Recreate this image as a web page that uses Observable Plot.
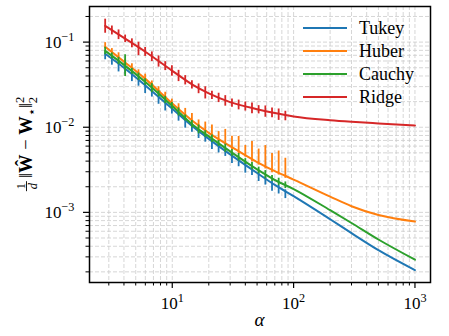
<!DOCTYPE html>
<html><head><meta charset="utf-8">
<script src="https://cdn.jsdelivr.net/npm/d3@7"></script>
<script src="https://cdn.jsdelivr.net/npm/@observablehq/plot@0.6"></script>
<style>body{margin:0;background:#fff;}</style>
</head><body><div id="chart"></div>
<script>
const seriesNames = ["Tukey", "Huber", "Cauchy", "Ridge"];
const colors = ["#1f77b4", "#ff7f0e", "#2ca02c", "#d62728"];

// theory curves
const alphaCurve  = [2.8, 4, 6, 10, 15, 20, 30, 50, 70, 100, 200, 300, 500, 1000];
const tukeyCurve  = [0.073, 0.050, 0.031, 0.0165, 0.0100, 0.0073, 0.0048, 0.0029, 0.0021, 0.00155, 0.00083, 0.00057, 0.00036, 0.00021];
const huberCurve  = [0.088, 0.059, 0.037, 0.019, 0.0116, 0.0086, 0.0060, 0.0039, 0.00305, 0.00243, 0.00153, 0.00118, 0.00093, 0.00078];
const cauchyCurve = [0.079, 0.054, 0.034, 0.0178, 0.0105, 0.0078, 0.0052, 0.0032, 0.0024, 0.00188, 0.00106, 0.00075, 0.00048, 0.000278];
const ridgeCurve  = [0.155, 0.112, 0.077, 0.046, 0.031, 0.025, 0.0197, 0.0163, 0.0147, 0.0134, 0.0121, 0.0116, 0.0111, 0.0105];

// simulations (error bars)
const alphaSim = [2.80, 3.18, 3.61, 4.09, 4.65, 5.27, 5.98, 6.79, 7.71, 8.75, 9.93, 11.27, 12.79, 14.52, 16.48, 18.71, 21.23, 24.10, 27.35, 31.05, 35.24, 40.0, 45.4, 51.5, 58.5, 66.4, 75.3, 85.5];
const tukeySim  = [0.0730, 0.0638, 0.0558, 0.0487, 0.0419, 0.0361, 0.0311, 0.0266, 0.0227, 0.0194, 0.0166, 0.0142, 0.0122, 0.0104, 0.0090, 0.00785, 0.00686, 0.00601, 0.00528, 0.00463, 0.00409, 0.00361, 0.00319, 0.00281, 0.00249, 0.00221, 0.00198, 0.00177];
const tukeyLo   = [0.85, 0.84, 0.80, 0.86, 0.82, 0.84, 0.80, 0.85, 0.82, 0.80, 0.86, 0.83, 0.80, 0.84, 0.82, 0.85, 0.80, 0.83, 0.86, 0.81, 0.84, 0.80, 0.85, 0.82, 0.84, 0.80, 0.83, 0.82];
const tukeyHi   = [1.05, 1.04, 1.06, 1.04, 1.05, 1.03, 1.05, 1.04, 1.06, 1.04, 1.03, 1.05, 1.04, 1.05, 1.03, 1.04, 1.06, 1.04, 1.03, 1.05, 1.04, 1.05, 1.03, 1.04, 1.05, 1.04, 1.05, 1.04];
const huberSim  = [0.0880, 0.0763, 0.0663, 0.0574, 0.0497, 0.0430, 0.0372, 0.0315, 0.0267, 0.0226, 0.0191, 0.0164, 0.0141, 0.0121, 0.0105, 0.00920, 0.00815, 0.00728, 0.00650, 0.00580, 0.00520, 0.00470, 0.00425, 0.00382, 0.00348, 0.00318, 0.00292, 0.00270];
const huberLo   = [0.95, 0.96, 0.94, 0.95, 0.96, 0.95, 0.94, 0.96, 0.95, 0.94, 0.95, 0.96, 0.94, 0.95, 0.93, 0.95, 0.94, 0.93, 0.95, 0.94, 0.93, 0.95, 0.92, 0.94, 0.93, 0.92, 0.94, 0.93];
const huberHi   = [1.12, 1.10, 1.13, 1.10, 1.12, 1.10, 1.13, 1.11, 1.12, 1.14, 1.12, 1.15, 1.18, 1.20, 1.16, 1.25, 1.30, 1.22, 1.45, 1.35, 1.50, 1.30, 1.60, 1.45, 1.75, 1.55, 1.80, 1.60];
const cauchySim = [0.0790, 0.0690, 0.0603, 0.0526, 0.0455, 0.0394, 0.0341, 0.0290, 0.0247, 0.0210, 0.0179, 0.0152, 0.0129, 0.0109, 0.0095, 0.00836, 0.00735, 0.00647, 0.00570, 0.00503, 0.00447, 0.00396, 0.00351, 0.00312, 0.00279, 0.00251, 0.00229, 0.00209];
const cauchyLo  = [0.90, 0.92, 0.90, 0.75, 0.92, 0.90, 0.91, 0.88, 0.92, 0.90, 0.91, 0.89, 0.92, 0.90, 0.88, 0.91, 0.90, 0.92, 0.89, 0.91, 0.90, 0.92, 0.90, 0.91, 0.89, 0.92, 0.90, 0.91];
const cauchyHi  = [1.10, 1.08, 1.10, 1.35, 1.08, 1.10, 1.09, 1.12, 1.08, 1.10, 1.09, 1.11, 1.08, 1.10, 1.12, 1.09, 1.10, 1.08, 1.11, 1.09, 1.10, 1.08, 1.10, 1.09, 1.11, 1.08, 1.10, 1.09];
const ridgeSim  = [0.155, 0.138, 0.123, 0.110, 0.0975, 0.0867, 0.0772, 0.0679, 0.0598, 0.0526, 0.0463, 0.0409, 0.0361, 0.0320, 0.0288, 0.0262, 0.0241, 0.0224, 0.0208, 0.0195, 0.0186, 0.0178, 0.0170, 0.0163, 0.0156, 0.0150, 0.0145, 0.0140];
const ridgeLo   = [0.82, 0.88, 0.87, 0.90, 0.88, 0.80, 0.88, 0.87, 0.85, 0.88, 0.86, 0.84, 0.87, 0.88, 0.86, 0.82, 0.88, 0.87, 0.85, 0.88, 0.86, 0.87, 0.85, 0.88, 0.84, 0.86, 0.83, 0.85];
const ridgeHi   = [1.20, 1.12, 1.13, 1.10, 1.12, 1.15, 1.12, 1.13, 1.15, 1.12, 1.14, 1.14, 1.12, 1.10, 1.12, 1.14, 1.10, 1.12, 1.13, 1.10, 1.12, 1.11, 1.13, 1.10, 1.14, 1.12, 1.13, 1.10];

// ticks
const xMajor = [10, 100, 1000];
const xMinor = [3, 4, 5, 6, 7, 8, 9, 20, 30, 40, 50, 60, 70, 80, 90, 200, 300, 400, 500, 600, 700, 800, 900];
const yMajor = [0.001, 0.01, 0.1];
const yMinor = [2e-4, 3e-4, 4e-4, 5e-4, 6e-4, 7e-4, 8e-4, 9e-4, 2e-3, 3e-3, 4e-3, 5e-3, 6e-3, 7e-3, 8e-3, 9e-3, 0.02, 0.03, 0.04, 0.05, 0.06, 0.07, 0.08, 0.09, 0.2];

const curves = [tukeyCurve, huberCurve, cauchyCurve, ridgeCurve];
const sims = [[tukeySim, tukeyLo, tukeyHi], [huberSim, huberLo, huberHi], [cauchySim, cauchyLo, cauchyHi], [ridgeSim, ridgeLo, ridgeHi]];

const serif = "Liberation Serif, DejaVu Serif, serif";
const W = 449, H = 336, mL = 89, mR = 19, mT = 6, mB = 54;
const fmt = d => "10^" + String(Math.round(Math.log10(d))).replace("-", "−");

const seriesMarks = [];
seriesNames.forEach((s, i) => {
  const line = alphaCurve.map((a, j) => ({series: s, alpha: a, value: curves[i][j]}));
  const [m, lo, hi] = sims[i];
  const bars = alphaSim.map((a, j) => ({series: s, alpha: a, lo: m[j] * lo[j], hi: m[j] * hi[j]}));
  seriesMarks.push(Plot.line(line, {x: "alpha", y: "value", stroke: "series", strokeWidth: 2, curve: "monotone-x"}));
  seriesMarks.push(Plot.ruleX(bars, {x: "alpha", y1: "lo", y2: "hi", stroke: "series", strokeWidth: 1.8}));
});

const gridStyle = {stroke: "#cbcbcb", strokeOpacity: 1, strokeWidth: 0.8, strokeDasharray: "4,2"};

const plot = Plot.plot({
  width: W, height: H,
  marginLeft: mL, marginRight: mR, marginTop: mT, marginBottom: mB,
  style: {fontFamily: serif, fontSize: "17px", background: "#fff", color: "black"},
  x: {type: "log", domain: [2.08, 1343], label: null},
  y: {type: "log", domain: [1.5e-4, 0.262], label: null},
  color: {domain: seriesNames, range: colors},
  marks: [
    Plot.gridX([...xMinor, ...xMajor], gridStyle),
    Plot.gridY([...yMinor, ...yMajor], gridStyle),
    ...seriesMarks,
    Plot.axisX(xMajor, {tickSize: 6, tickPadding: 8, tickFormat: fmt, strokeWidth: 1.2, fontSize: 17, label: null}),
    Plot.axisX(xMinor, {tickSize: 3.5, tickFormat: () => "", strokeWidth: 1, label: null}),
    Plot.axisY(yMajor, {tickSize: 6, tickPadding: 9, tickFormat: fmt, strokeWidth: 1.2, fontSize: 17, label: null}),
    Plot.axisY(yMinor, {tickSize: 3.5, tickFormat: () => "", strokeWidth: 1, label: null}),
    Plot.frame({stroke: "black", strokeWidth: 1.5})
  ]
});
document.getElementById("chart").appendChild(plot);

const svg = d3.select(plot);
// superscript exponents in tick labels
svg.selectAll("text").each(function () {
  const t = this.textContent;
  const m = t.match(/^10\^(.+)$/);
  if (m) {
    const el = d3.select(this);
    el.text("");
    el.append("tspan").text("10");
    el.append("tspan").attr("dy", "-0.55em").attr("font-size", "0.72em").text(m[1]);
  }
});

// x label
svg.append("text").attr("x", (mL + W - mR) / 2).attr("y", 326).attr("text-anchor", "middle")
  .attr("font-style", "italic").attr("font-size", 19).attr("fill", "black").text("α");

// y label
const cy = (mT + H - mB) / 2;
const g = svg.append("g").attr("transform", `translate(32,${cy}) rotate(-90)`).attr("fill", "black");
const main = g.append("text").attr("font-size", 18.5).attr("text-anchor", "start");
main.append("tspan").text("‖");
main.append("tspan").attr("font-weight", "bold").text("Ŵ");
main.append("tspan").text(" − ");
main.append("tspan").attr("font-weight", "bold").text("W");
main.append("tspan").attr("font-size", 12.5).attr("dy", 3.5).text("⋆");
main.append("tspan").attr("dy", -3.5).text("‖");
main.append("tspan").attr("font-size", 12.5).attr("dy", -8).text("2");
main.append("tspan").attr("font-size", 12.5).attr("dx", -6.3).attr("dy", 12.5).text("2");

// legend
const lg = svg.append("g");
seriesNames.forEach((s, i) => {
  const yy = 28 + i * 23;
  lg.append("line").attr("x1", 303).attr("x2", 347).attr("y1", yy).attr("y2", yy)
    .attr("stroke", colors[i]).attr("stroke-width", 2);
  lg.append("text").attr("x", 359).attr("y", yy + 6).attr("font-size", 18).attr("text-anchor", "start")
    .attr("fill", "black").text(s);
});

// force serif font on all text
svg.selectAll("text").style("font-family", serif);

const mw = main.node().getBBox().width;
const fw = 10, gap = 3;
const start = -(fw + gap + mw) / 2;
main.attr("x", start + fw + gap);
const fc = start + fw / 2;
g.append("text").attr("x", fc).attr("y", -7.5).attr("text-anchor", "middle").attr("font-size", 12.5)
  .style("font-family", serif).text("1");
g.append("line").attr("x1", fc - 5).attr("x2", fc + 5).attr("y1", -5.5).attr("y2", -5.5)
  .attr("stroke", "black").attr("stroke-width", 0.9);
g.append("text").attr("x", fc).attr("y", 5).attr("text-anchor", "middle").attr("font-size", 12.5)
  .attr("font-style", "italic").style("font-family", serif).text("d");
</script>
</body></html>
